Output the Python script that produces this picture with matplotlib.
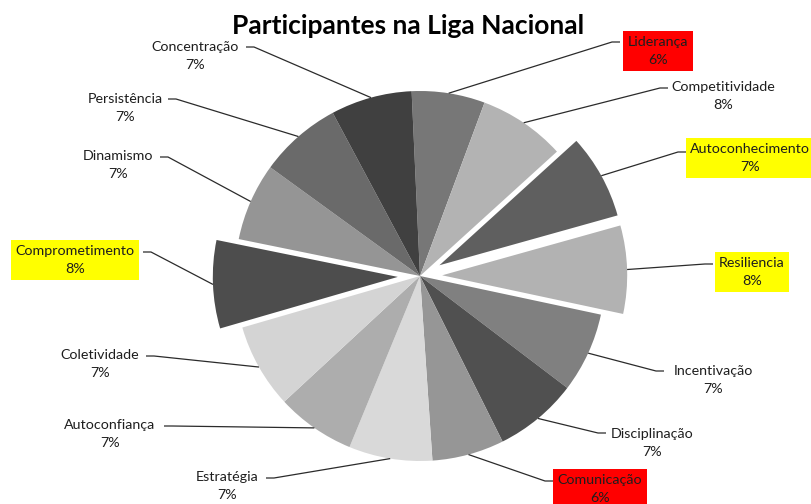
import numpy as np
import matplotlib.pyplot as plt

# ── Data ─────────────────────────────────────────────────────────────────────
categories = [
    "Liderança", "Competitividade", "Autoconhecimento", "Resiliencia",
    "Incentivação", "Disciplinação", "Comunicação", "Estratégia",
    "Autoconfiança", "Coletividade", "Comprometimento", "Dinamismo",
    "Persistência", "Concentração",
]
values = [6.4, 7.6, 7.4, 7.7, 7.0, 7.3, 6.3, 7.3, 6.9, 7.4, 7.7, 6.8, 7.2, 7.1]
pct_labels = ["6%", "8%", "7%", "8%", "7%", "7%", "6%", "7%",
              "7%", "7%", "8%", "7%", "7%", "7%"]
exploded = ["Autoconhecimento", "Resiliencia", "Comprometimento"]
highlight = {"Liderança": "#FF0000", "Comunicação": "#FF0000",
             "Autoconhecimento": "#FFFF00", "Resiliencia": "#FFFF00",
             "Comprometimento": "#FFFF00"}

colors = ["#777777", "#b3b3b3", "#5f5f5f", "#b2b2b2", "#808080", "#505050",
          "#969696", "#d9d9d9", "#adadad", "#d4d4d4", "#4d4d4d", "#959595",
          "#6a6a6a", "#404040"]

# ── Layout (pixel positions in an 811x504 canvas) ────────────────────────────
W, H = 811, 504
CX, CY, R = 420, 276, 185

def px(x, y):
    return (x - CX) / R, (CY - y) / R

# text centre, line anchor at the label side
label_pos = {
    "Liderança":        ((658, 51), (620, 42)),
    "Competitividade":  ((723, 96), (668, 88)),
    "Autoconhecimento": ((750, 158), (686, 152)),
    "Resiliencia":      ((752, 272), (713, 264)),
    "Incentivação":     ((713, 380), (664, 371)),
    "Disciplinação":    ((652, 443), (606, 433)),
    "Comunicação":      ((600, 489), (553, 481)),
    "Estratégia":       ((227, 486), (266, 478)),
    "Autoconfiança":    ((110, 434), (164, 426)),
    "Coletividade":     ((100, 364), (146, 356)),
    "Comprometimento":  ((75, 260), (143, 252)),
    "Dinamismo":        ((118, 165), (160, 157)),
    "Persistência":     ((125, 108), (168, 99)),
    "Concentração":     ((195, 56), (246, 47)),
}

plt.rcParams["font.family"] = ["Lato", "DejaVu Sans"]

fig = plt.figure(figsize=(W / 100, H / 100), dpi=100)
ax = fig.add_axes([0, 0, 1, 1])

explode = [0.12 if c in exploded else 0 for c in categories]
wedges, _ = ax.pie(values, colors=colors, explode=explode, startangle=92.6,
                   counterclock=False, radius=1.0,
                   wedgeprops=dict(linewidth=0))

ax.set_xlim(-CX / R, (W - CX) / R)
ax.set_ylim(-(H - CY) / R, CY / R)
ax.set_aspect("equal")
ax.axis("off")

for cat, pct, w, ex in zip(categories, pct_labels, wedges, explode):
    mid = np.deg2rad((w.theta1 + w.theta2) / 2)
    cx, cy = w.center
    edge = (cx + np.cos(mid), cy + np.sin(mid))
    (tx, ty), (axx, ayy) = label_pos[cat]
    step = -8 if axx > CX else 8
    elbow = px(axx + step, ayy)
    anchor = px(axx, ayy)
    ax.plot([anchor[0], elbow[0], edge[0]], [anchor[1], elbow[1], edge[1]],
            color="#2b2b2b", lw=0.9, solid_capstyle="butt")
    bbox = None
    if cat in highlight:
        bbox = dict(boxstyle="square,pad=0.3", facecolor=highlight[cat],
                    edgecolor="none")
    ax.text(*px(tx, ty), f"{cat}\n{pct}", ha="center", va="center",
            fontsize=10.3, color="#1e1e1e", linespacing=1.65, bbox=bbox)

fig.text(408 / W, 1 - 26 / H, "Participantes na Liga Nacional",
         ha="center", va="center", fontsize=19, fontweight="bold")

fig.savefig("out.png", dpi=100)
